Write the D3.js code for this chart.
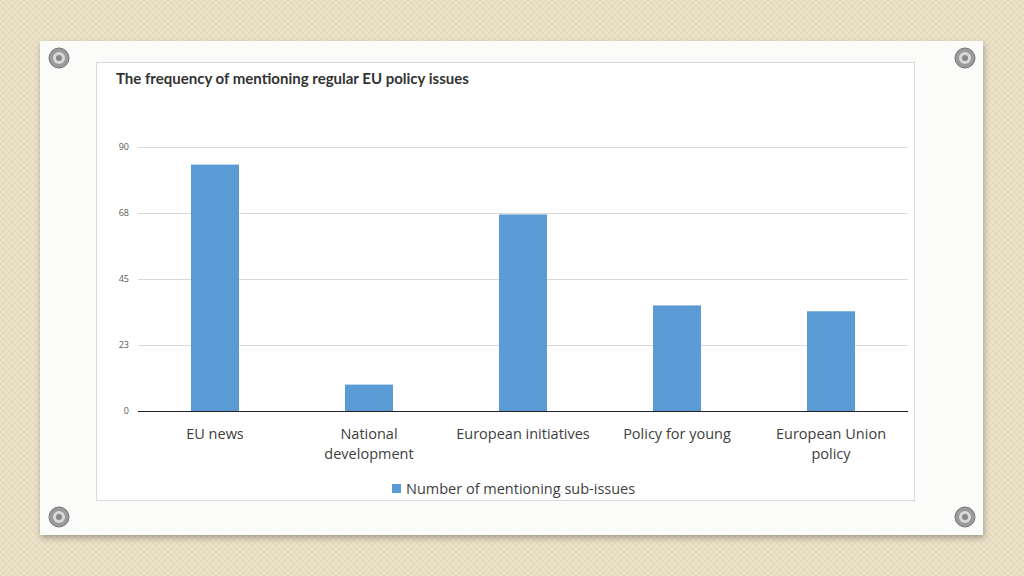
<!DOCTYPE html>
<html><head><meta charset="utf-8">
<script src="https://cdn.jsdelivr.net/npm/d3@7"></script>
<style>body{margin:0;background:#ece2c9;}svg{display:block}</style>
</head><body>
<svg id="c" width="1024" height="576"></svg>
<script>
const categories = [["EU news"],["National","development"],["European initiatives"],["Policy for young"],["European Union","policy"]];
const values = [84, 9, 67, 36, 34];
const tickValues = [0, 22.5, 45, 67.5, 90];
const tickLabels = ["0","23","45","68","90"];
const seriesName = "Number of mentioning sub-issues";
const title = "The frequency of mentioning regular EU policy  issues";

const svg = d3.select("#c");
const defs = svg.append("defs");
const pat = defs.append("pattern").attr("id","tex").attr("width",6).attr("height",6).attr("patternUnits","userSpaceOnUse");
pat.append("rect").attr("width",6).attr("height",6).attr("fill","#ece2c9");
pat.append("path").attr("d","M0 0L6 6M6 0L0 6").attr("stroke","#e2d6b8").attr("stroke-width",0.8);
svg.append("rect").attr("width",1024).attr("height",576).attr("fill","url(#tex)");
const f = defs.append("filter").attr("id","sh").attr("x","-5%").attr("y","-5%").attr("width","110%").attr("height","115%");
f.append("feDropShadow").attr("dx",1).attr("dy",3).attr("stdDeviation",3).attr("flood-color","#000").attr("flood-opacity",0.3);
svg.append("rect").attr("x",40).attr("y",41).attr("width",943).attr("height",494).attr("fill","#fbfbfa").attr("filter","url(#sh)");
[[59,58],[965,58],[59,517],[965,517]].forEach(([x,y])=>{
  svg.append("circle").attr("cx",x).attr("cy",y).attr("r",10).attr("fill","#9a9a9a").attr("stroke","#777");
  svg.append("circle").attr("cx",x).attr("cy",y).attr("r",6).attr("fill","#d8d8d8");
  svg.append("circle").attr("cx",x).attr("cy",y).attr("r",3).attr("fill","#888");
});
svg.append("rect").attr("x",96.5).attr("y",62.5).attr("width",818).attr("height",438).attr("fill","#fff").attr("stroke","#d9d9d9");
svg.append("text").attr("x",116).attr("y",84).text(title).attr("font-family","Lato, 'Open Sans', sans-serif").attr("font-weight","bold").attr("font-size",15).attr("fill","#333");

const x = d3.scaleBand().domain(d3.range(categories.length)).range([138,908]).paddingInner(0.6883).paddingOuter(0.3442);
const y = d3.scaleLinear().domain([0,90]).range([411,147]);
const ff = "'Open Sans', 'Noto Sans', sans-serif";
const g = svg.append("g");
tickValues.forEach((t,i)=>{
  g.append("line").attr("x1",138).attr("x2",908).attr("y1",y(t)+0.5).attr("y2",y(t)+0.5).attr("stroke",t===0?"#222":"#d9d9d9").attr("stroke-width",t===0?1.2:1);
  g.append("text").attr("x",129).attr("y",y(t)+3).attr("text-anchor","end").attr("font-family",ff).attr("font-size",9).attr("fill","#595959").text(tickLabels[i]);
});
values.forEach((v,i)=>{
  g.append("rect").attr("x",x(i)).attr("y",y(v)).attr("width",x.bandwidth()).attr("height",y(0)-y(v)).attr("fill","#5b9bd5");
  const c = x(i)+x.bandwidth()/2;
  categories[i].forEach((l,j)=>g.append("text").attr("x",c).attr("y",439+j*20).attr("text-anchor","middle").attr("font-family",ff).attr("font-size",14.5).attr("fill","#404040").text(l));
});
svg.append("rect").attr("x",392).attr("y",484).attr("width",9).attr("height",9).attr("fill","#5b9bd5");
svg.append("text").attr("x",406).attr("y",494).attr("font-family",ff).attr("font-size",14.5).attr("fill","#404040").text(seriesName);
</script></body></html>
